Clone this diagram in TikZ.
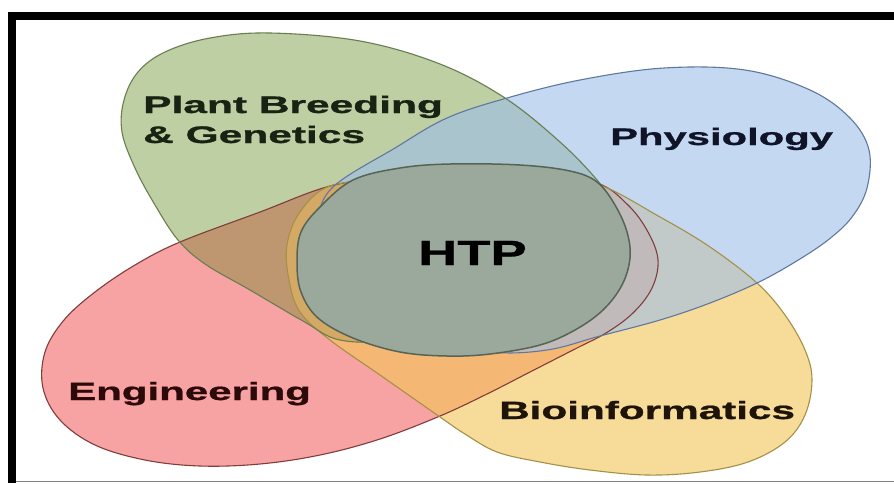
\documentclass[tikz,border=0pt]{standalone}
\usepackage{fontspec}
\setmainfont{Liberation Sans}
\newfontfamily\lblfont{Liberation Sans}[UprightFont=* Bold, FakeBold=0.8]
\definecolor{gfill}{RGB}{145,175,102}
\definecolor{bfill}{RGB}{158,190,233}
\definecolor{rfill}{RGB}{243,103,103}
\definecolor{yfill}{RGB}{243,198,85}
\definecolor{brownfill}{RGB}{190,150,112}
\definecolor{gline}{RGB}{105,125,80}
\definecolor{bline}{RGB}{95,120,160}
\definecolor{rline}{RGB}{130,60,60}
\definecolor{yline}{RGB}{165,145,70}
\definecolor{htpfill}{RGB}{155,169,157}
\definecolor{htpline}{RGB}{85,100,85}
\definecolor{gtxt}{RGB}{25,35,20}
\definecolor{btxt}{RGB}{15,20,40}
\definecolor{rtxt}{RGB}{45,10,10}
\definecolor{ytxt}{RGB}{30,20,10}
\begin{document}
\begin{tikzpicture}[x=1pt,y=-1pt,
  region/.style={fill opacity=0.6},
  edgeline/.style={line width=1.1pt},
  lbl/.style={inner sep=0pt, anchor=base west, font=\lblfont}]
\useasboundingbox (0,0) rectangle (894,483);
\fill[white] (0,0) rectangle (894,483);
% shape paths
\path[save path=\pR] plot[smooth cycle, tension=0.6] coordinates {
 (180,242) (260,212) (330,186) (390,178) (460,173) (540,176) (597,183)
 (628,205) (648,232) (658,260) (652,288) (633,313) (606,333) (575,349)
 (530,372) (487,394) (440,416) (380,439) (320,455) (260,464) (200,466)
 (145,460) (95,445) (60,420) (43,388) (45,352) (64,320) (95,292) (135,265)};
\path[save path=\pY] plot[smooth cycle, tension=0.6] coordinates {
 (287,245) (300,212) (330,186) (390,180) (460,176) (540,178) (597,184)
 (660,217) (710,247) (757,283) (785,315) (805,350) (812,380) (805,415)
 (785,442) (748,462) (700,472) (647,475) (590,470) (540,462) (497,452)
 (465,434) (440,417) (380,375) (330,340) (300,312) (289,280)};
\path[save path=\pG] plot[smooth cycle, tension=0.6] coordinates {
 (270,33) (360,41) (440,64) (505,98) (560,142) (597,180) (615,207)
 (620,235) (608,260) (580,281) (530,302) (460,324) (395,340) (340,340)
 (303,321) (250,290) (205,264) (178,240) (155,205) (135,168) (122,132)
 (124,100) (138,72) (165,52) (210,38)};
\path[save path=\pB] plot[smooth cycle, tension=0.6] coordinates {
 (333,187) (395,148) (447,118) (507,98) (580,80) (664,68) (745,70)
 (810,90) (850,118) (869,150) (867,188) (852,217) (828,240) (795,262)
 (757,283) (710,303) (660,320) (600,336) (547,350) (490,352) (420,338)
 (360,305) (322,262) (318,222)};
% fills
\fill[rfill, region, use path=\pR];
\fill[yfill, region, use path=\pY];
\fill[gfill, region, use path=\pG];
\fill[bfill, region, use path=\pB];
% darker overlap of plant breeding and engineering
\begin{scope}
  \clip[use path=\pG];
  \fill[brownfill, use path=\pR];
  \fill[yfill, fill opacity=0.4, use path=\pY];
\end{scope}
% outlines
\draw[rline, edgeline, use path=\pR];
\draw[yline, edgeline, use path=\pY];
\draw[gline, edgeline, use path=\pG];
\draw[bline, edgeline, use path=\pB];
% HTP
\filldraw[fill=htpfill, draw=htpline, line width=1.5pt] plot[smooth cycle, tension=0.6] coordinates {
 (297,262) (301,232) (320,207) (353,180) (400,168) (450,164) (520,165)
 (570,171) (597,182) (615,205) (627,232) (630,258) (622,285) (603,310)
 (575,330) (540,345) (490,354) (447,356) (400,352) (353,338) (318,318)
 (301,292)};
% labels
\node[lbl, text=gtxt] (pb1) at (143,113) {\scalebox{1.77}[1]{\fontsize{24}{28}\selectfont Plant Breeding}};
\node[lbl, text=gtxt] (pb2) at (143,143) {\scalebox{1.77}[1]{\fontsize{24}{28}\selectfont \& Genetics}};
\node[lbl, text=btxt] (phy) at (610,145) {\scalebox{1.74}[1]{\fontsize{24}{28}\selectfont Physiology}};
\node[lbl, text=rtxt] (eng) at (68,400) {\scalebox{1.68}[1]{\fontsize{25}{29}\selectfont Engineering}};
\node[lbl, text=ytxt] (bio) at (499,419) {\scalebox{1.69}[1]{\fontsize{25}{29}\selectfont Bioinformatics}};
\node[lbl, text=black] (htp) at (418,265) {\scalebox{1.55}[1]{\fontsize{35}{40}\selectfont HTP}};
% frame
\fill[black] (8,12) rectangle (894,19.5);
\fill[black] (8,12) rectangle (16,483);
\draw[gray, line width=1pt] (16,481.5) -- (894,481.5);
\end{tikzpicture}
\end{document}
